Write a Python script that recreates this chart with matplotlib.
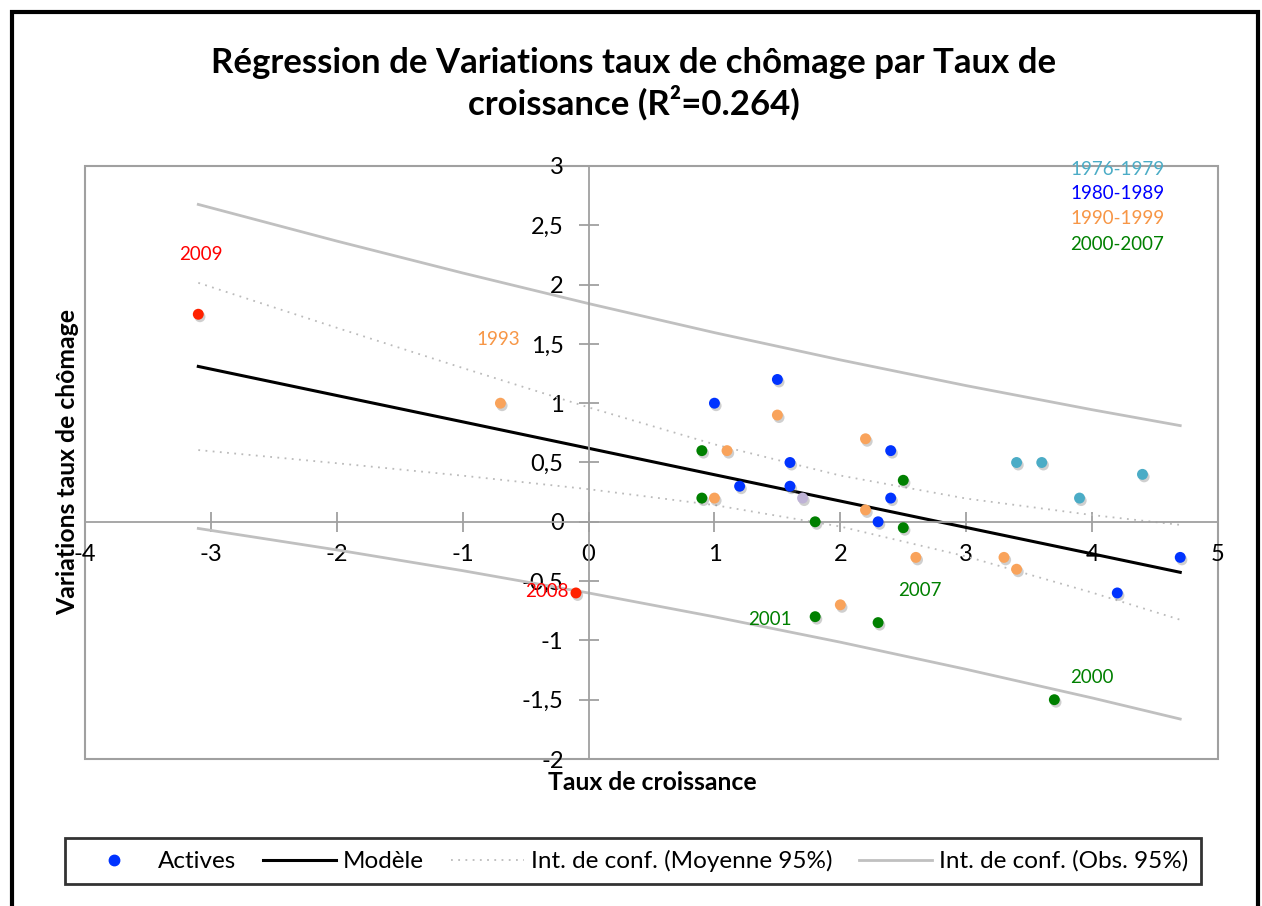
import numpy as np
import matplotlib.pyplot as plt
from matplotlib.patches import Rectangle
import matplotlib.patheffects as pe

plt.rcParams['font.family'] = ['Lato', 'DejaVu Sans']

# points par période (taux de croissance, variation du chômage)
x_7679 = [3.4, 3.6, 4.4, 3.9]
y_7679 = [0.5, 0.5, 0.4, 0.2]
x_8089 = [1.5, 1.0, 1.6, 2.4, 1.2, 1.6, 2.4, 2.3, 4.7, 4.2]
y_8089 = [1.2, 1.0, 0.5, 0.6, 0.3, 0.3, 0.2, 0.0, -0.3, -0.6]
x_9099 = [-0.7, 1.5, 1.1, 2.2, 1.0, 2.2, 2.6, 3.3, 3.4, 2.0]
y_9099 = [1.0, 0.9, 0.6, 0.7, 0.2, 0.1, -0.3, -0.3, -0.4, -0.7]
x_0007 = [0.9, 2.5, 0.9, 1.8, 2.5, 1.8, 2.3, 3.7]
y_0007 = [0.6, 0.35, 0.2, 0.0, -0.05, -0.8, -0.85, -1.5]
x_crise = [-0.1, -3.1]
y_crise = [-0.6, 1.75]
x_autre = [1.7]
y_autre = [0.2]

# modèle et intervalles de confiance
x_mod = [-3.1, -2, -1, 0, 1, 2, 3, 4, 4.7]
y_mod = [1.31, 1.065, 0.843, 0.62, 0.397, 0.175, -0.048, -0.27, -0.426]
moy_haut = [2.015, 1.636, 1.297, 0.965, 0.653, 0.39, 0.196, 0.057, -0.026]
moy_bas = [0.605, 0.494, 0.389, 0.275, 0.141, -0.04, -0.292, -0.597, -0.826]
obs_haut = [2.676, 2.367, 2.098, 1.84, 1.595, 1.365, 1.148, 0.945, 0.811]
obs_bas = [-0.056, -0.237, -0.412, -0.6, -0.801, -1.015, -1.244, -1.485, -1.663]

xticks = [-4, -3, -2, -1, 0, 1, 2, 3, 4, 5]
yticks = [-2, -1.5, -1, -0.5, 0, 0.5, 1, 1.5, 2, 2.5, 3]
ytick_labels = ['-2', '-1,5', '-1', '-0,5', '0', '0,5', '1', '1,5', '2', '2,5', '3']

annot = [('2009', -3.08, 2.25, '#FF0000'), ('1993', -0.72, 1.54, '#F79646'),
         ('2008', -0.33, -0.59, '#FF0000'), ('2001', 1.44, -0.82, '#008000'),
         ('2007', 2.63, -0.58, '#008000'), ('2000', 4.0, -1.31, '#008000')]
periodes = [('1976-1979', 2.97, '#4BACC6'), ('1980-1989', 2.77, '#0000FF'),
            ('1990-1999', 2.56, '#F79646'), ('2000-2007', 2.34, '#008000')]

fig = plt.figure(figsize=(12.62, 9.06), dpi=100)
ax = fig.add_axes([85/1262, 1 - 759/906, 1133/1262, 593/906])

ombre = [pe.SimplePatchShadow(offset=(1.2, -1.8), alpha=0.35, shadow_rgbFace='#777777'), pe.Normal()]

ax.plot(x_mod, obs_haut, color='#C0C0C0', lw=2)
ax.plot(x_mod, obs_bas, color='#C0C0C0', lw=2)
ax.plot(x_mod, moy_haut, color='#BBBBBB', lw=1.3, ls=(0, (1, 3)))
ax.plot(x_mod, moy_bas, color='#BBBBBB', lw=1.3, ls=(0, (1, 3)))
ax.plot(x_mod, y_mod, color='black', lw=2.2)

for xs, ys, c in [(x_7679, y_7679, '#4BACC6'), (x_8089, y_8089, '#0033FF'),
                  (x_9099, y_9099, '#F9A35B'), (x_0007, y_0007, '#008000'),
                  (x_crise, y_crise, '#FF2200'), (x_autre, y_autre, '#BFB3D6')]:
    sc = ax.scatter(xs, ys, s=62, color=c, zorder=5, linewidths=0)
    sc.set_path_effects(ombre)

for t, x, y, c in annot:
    ax.text(x, y, t, color=c, fontsize=13.5, ha='center', va='center')
for t, y, c in periodes:
    ax.text(4.2, y, t, color=c, fontsize=13.5, ha='center', va='center')

ax.set_xlim(-4, 5)
ax.set_ylim(-2, 3)
ax.set_xticks(xticks)
ax.set_xticklabels([str(v) for v in xticks])
ax.set_yticks(yticks)
ax.set_yticklabels(ytick_labels)

for s in ['top', 'right']:
    ax.spines[s].set_visible(False)
ax.spines['left'].set_position(('data', 0))
ax.spines['bottom'].set_position(('data', 0))
ax.spines['left'].set_color('#A0A0A0')
ax.spines['bottom'].set_color('#A0A0A0')
ax.spines['left'].set_linewidth(1.3)
ax.spines['bottom'].set_linewidth(1.3)
ax.tick_params(axis='both', direction='inout', length=14, width=1.3, color='#A0A0A0',
               labelsize=17)
ax.tick_params(axis='x', pad=9)
ax.tick_params(axis='y', pad=11)
ax.add_patch(Rectangle((0, 0), 1, 1, transform=ax.transAxes, fill=False,
                       ec='#A0A0A0', lw=1.5, clip_on=False, zorder=0))

fig.text(652/1262, 1 - 783/906, 'Taux de croissance', fontsize=17.8, fontweight='bold',
         ha='center', va='center')
fig.text(68/1262, 1 - 462/906, 'Variations taux de chômage', fontsize=17.8, fontweight='bold',
         ha='center', va='center', rotation=90)
fig.text(634/1262, 1 - 84/906,
         'Régression de Variations taux de chômage par Taux de\ncroissance (R²=0.264)',
         fontsize=25, fontweight='bold', ha='center', va='center', linespacing=1.2)

# légende
h1, = ax.plot([], [], 'o', color='#0033FF', ms=7.5, ls='none')
h2, = ax.plot([], [], color='black', lw=2.2)
h3, = ax.plot([], [], color='#BBBBBB', lw=1.3, ls=(0, (1, 3)))
h4, = ax.plot([], [], color='#C0C0C0', lw=2)
leg = fig.legend([h1, h2, h3, h4],
                 ['Actives', 'Modèle', 'Int. de conf. (Moyenne 95%)', 'Int. de conf. (Obs. 95%)'],
                 loc='center', bbox_to_anchor=(633/1262, 1 - 861/906), ncol=4,
                 fontsize=17.5, frameon=True, fancybox=False, edgecolor='black',
                 handlelength=3.0, columnspacing=1.1, handletextpad=0.3, borderpad=0.5)
leg.get_frame().set_linewidth(2)

# cadre extérieur
fig.add_artist(Rectangle((12/1262, -0.1), 1246/1262, 1.1 - 12.5/906, transform=fig.transFigure,
                         fill=False, ec='black', lw=3))

fig.savefig('out.png', dpi=100)
